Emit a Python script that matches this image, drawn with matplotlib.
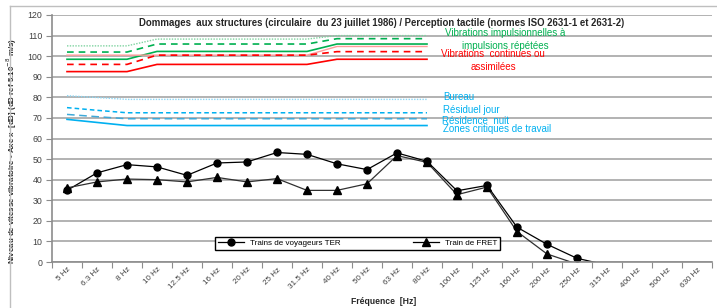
import numpy as np
import matplotlib.pyplot as plt
from matplotlib.lines import Line2D

plt.rcParams['font.family'] = ['Liberation Sans', 'DejaVu Sans']

freqs = ["5 Hz", "6.3 Hz", "8 Hz", "10 Hz", "12.5 Hz", "16 Hz", "20 Hz", "25 Hz",
         "31.5 Hz", "40 Hz", "50 Hz", "63 Hz", "80 Hz", "100 Hz", "125 Hz", "160 Hz",
         "200 Hz", "250 Hz", "315 Hz", "400 Hz", "500 Hz", "630 Hz"]

# measured levels (dB)
ter = [34.8, 43.3, 47.3, 46.2, 42.1, 48.1, 48.6, 53.2, 52.3, 47.7, 44.9, 53.0,
       48.9, 34.6, 37.2, 16.9, 8.6, 1.8, -1.5]
fret = [36.0, 38.9, 40.3, 40.0, 38.9, 41.1, 38.9, 40.5, 34.8, 34.8, 38.0, 51.7,
        48.4, 32.7, 36.4, 14.8, 3.9, -1.0]

# limit curves, 5 Hz .. 80 Hz
vib_imp_dot = [105.0, 105.0, 105.0, 108.3, 108.3, 108.3, 108.3, 108.3, 108.3, 110.0, 110.0, 110.0, 110.0]
vib_imp_dash = [102.0, 102.0, 102.0, 105.9, 105.9, 105.9, 105.9, 105.9, 105.9, 108.5, 108.5, 108.5, 108.5]
vib_imp = [98.5, 98.5, 98.5, 102.3, 102.3, 102.3, 102.3, 102.3, 102.3, 105.9, 105.9, 105.9, 105.9]
vib_cont_light = [100.5, 100.5, 100.5, 100.5, 100.5, 100.5, 100.5, 100.5, 100.5, 104.7, 104.7, 104.7, 104.7]
vib_cont_dash = [96.0, 96.0, 96.0, 100.5, 100.5, 100.5, 100.5, 100.5, 100.5, 102.2, 102.2, 102.2, 102.2]
vib_cont = [92.5, 92.5, 92.5, 96.0, 96.0, 96.0, 96.0, 96.0, 96.0, 98.5, 98.5, 98.5, 98.5]
bureau = [80.8, 79.9, 79.0, 79.0, 79.0, 79.0, 79.0, 79.0, 79.0, 79.0, 79.0, 79.0, 79.0]
resid_jour = [75.0, 73.7, 72.5, 72.5, 72.5, 72.5, 72.5, 72.5, 72.5, 72.5, 72.5, 72.5, 72.5]
resid_nuit = [71.7, 70.6, 69.6, 69.6, 69.6, 69.6, 69.6, 69.6, 69.6, 69.6, 69.6, 69.6, 69.6]
zones_crit = [69.3, 67.8, 66.3, 66.3, 66.3, 66.3, 66.3, 66.3, 66.3, 66.3, 66.3, 66.3, 66.3]

fig = plt.figure(figsize=(7.17, 3.08), dpi=100)
ax = fig.add_axes([52/717, 46/308, 660/717, 247/308])

# outer chart frame
fig.add_artist(Line2D([10/717, 10/717], [0, 1 - 6/308], color="#BFBFBF", lw=1))
fig.add_artist(Line2D([10/717, 1], [1 - 6/308, 1 - 6/308], color="#BFBFBF", lw=1))

xl = np.arange(len(vib_imp))
ax.plot(xl, vib_imp_dot, color="#7FD3A0", lw=1, ls=(0, (1, 1)))
ax.plot(xl, vib_imp_dash, color="#00B050", lw=1.2, ls=(0, (4, 3)))
ax.plot(xl, vib_imp, color="#00B050", lw=1.2)
ax.plot(xl, vib_cont_light, color="#FF9B9B", lw=1)
ax.plot(xl, vib_cont_dash, color="#FF0000", lw=1.2, ls=(0, (4, 3)))
ax.plot(xl, vib_cont, color="#FF0000", lw=1.2)
ax.plot(xl, bureau, color="#8DD7F5", lw=1, ls=(0, (1, 1)))
ax.plot(xl, resid_jour, color="#00B0F0", lw=1.1, ls=(0, (3, 2)))
ax.plot(xl, resid_nuit, color="#3FA9D8", lw=1.1, ls=(0, (5, 3)))
ax.plot(xl, zones_crit, color="#00B0F0", lw=1.2)

xt = np.arange(len(ter))
xf = np.arange(len(fret))
ax.plot(xt, ter, color="black", lw=0.9)
ax.plot(xf, fret, color="#303030", lw=0.9)
ter_a = np.array(ter)
fret_a = np.array(fret)
ax.plot(xt[ter_a >= 0], ter_a[ter_a >= 0], ls="none", marker="o", ms=5, color="black")
ax.plot(xf[fret_a >= 0], fret_a[fret_a >= 0], ls="none", marker="^", ms=5.5, color="black")

fs = 7.0
ax.text(0.5, 0.968, "Dommages  aux structures (circulaire  du 23 juillet 1986) / Perception tactile (normes ISO 2631-1 et 2631-2)",
        transform=ax.transAxes, ha="center", va="center", fontsize=6.9, fontweight="bold", color="#262626")
ax.text(14.6, 111.1, "Vibrations impulsionnelles à", ha="center", va="center", fontsize=fs, color="#00B050")
ax.text(14.6, 105.1, "impulsions répétées", ha="center", va="center", fontsize=fs, color="#00B050")
ax.text(14.2, 100.9, "Vibrations  continues ou", ha="center", va="center", fontsize=fs, color="#FF0000")
ax.text(14.2, 94.9, "assimilées", ha="center", va="center", fontsize=fs, color="#FF0000")
ax.text(12.53, 80.0, "Bureau", ha="left", va="center", fontsize=fs, color="#00B0F0")
ax.text(12.53, 73.9, "Résiduel jour", ha="left", va="center", fontsize=fs, color="#00B0F0")
ax.text(12.5, 68.7, "Résidence  nuit", ha="left", va="center", fontsize=fs, color="#00B0F0")
ax.text(12.53, 64.6, "Zones critiques de travail", ha="left", va="center", fontsize=fs, color="#00B0F0")

# axes
ax.set_xlim(-0.5, len(freqs) - 0.5)
ax.set_ylim(0, 120)
ax.set_yticks(np.arange(0, 121, 10))
ax.yaxis.grid(True, color="#A6A6A6", lw=1.2)
ax.set_axisbelow(True)
ax.set_xticks(np.arange(-0.5, len(freqs)), labels=[])
ax.set_xticks(np.arange(len(freqs)), labels=freqs, minor=True)
ax.tick_params(axis="x", which="major", length=4, color="#8C8C8C", direction="out")
ax.tick_params(axis="x", which="minor", length=0, pad=3, labelsize=5.8, labelcolor="#404040")
ax.tick_params(axis="y", length=4, color="#8C8C8C", labelsize=6.3, labelcolor="#404040", pad=3)
for lab in ax.get_xticklabels(minor=True):
    lab.set_rotation(45)
    lab.set_ha("right")
    lab.set_rotation_mode("anchor")
for s in ["top", "right"]:
    ax.spines[s].set_visible(False)
for s in ["left", "bottom"]:
    ax.spines[s].set_color("#8C8C8C")
    ax.spines[s].set_linewidth(1.2)

ax.set_xlabel("Fréquence  [Hz]", fontsize=6.2, fontweight="bold", color="#262626")
ax.xaxis.set_label_coords(0.502, -0.14)
ax.set_ylabel("Niveau de vitesse vibratoire - Axe x  [dB] (dB ref 5.10$^{-8}$ m/s)", fontsize=5.7,
              fontweight="bold", color="#262626")
ax.yaxis.set_label_coords(-0.05, 0.45)

handles = [Line2D([], [], color="black", lw=0.9, marker="o", ms=5),
           Line2D([], [], color="black", lw=0.9, marker="^", ms=5.5)]
leg = ax.legend(handles, ["Trains de voyageurs TER", "Train de FRET"], ncol=2,
                loc="lower left", bbox_to_anchor=(0.247, 0.049, 0.432, 0.072), mode="expand",
                fontsize=5.8, fancybox=False, edgecolor="black", framealpha=1,
                handlelength=3.2, borderaxespad=0, borderpad=0.35, columnspacing=4)
leg.get_frame().set_linewidth(1)

fig.savefig("out.png", dpi=100)
